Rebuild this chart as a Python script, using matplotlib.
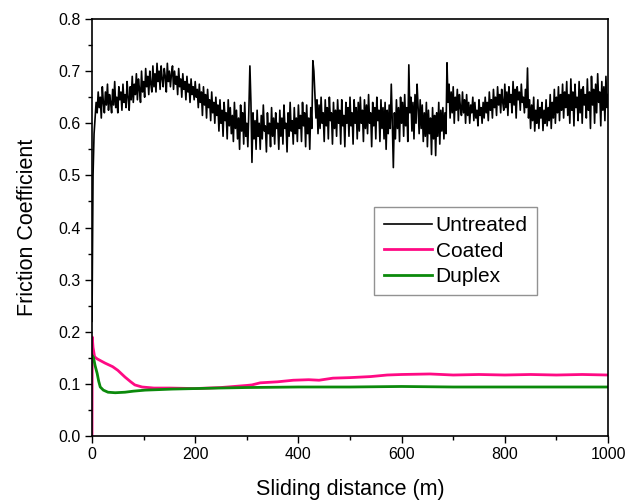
import numpy as np
import matplotlib
matplotlib.use("Agg")
import matplotlib.pyplot as plt
from matplotlib.ticker import MultipleLocator

plt.rcParams['font.family'] = ['Liberation Sans', 'DejaVu Sans']

untreated = [
    0.22, 0.50, 0.58, 0.61, 0.64, 0.62, 0.66, 0.63, 0.65, 0.61, 0.67, 0.64, 0.62, 0.66, 0.635, 0.675, 0.625, 0.655, 0.64, 0.62,
    0.665, 0.635, 0.68, 0.63, 0.65, 0.62, 0.67, 0.645, 0.66, 0.625, 0.675, 0.64, 0.655, 0.63, 0.68, 0.65, 0.625, 0.67, 0.645, 0.69,
    0.64, 0.675, 0.655, 0.695, 0.645, 0.685, 0.665, 0.64, 0.70, 0.66, 0.68, 0.65, 0.705, 0.67, 0.69, 0.655, 0.70, 0.675, 0.66, 0.71,
    0.67, 0.695, 0.66, 0.715, 0.68, 0.70, 0.665, 0.71, 0.685, 0.67, 0.705, 0.69, 0.66, 0.715, 0.68, 0.70, 0.67, 0.695, 0.71, 0.665,
    0.70, 0.675, 0.69, 0.655, 0.705, 0.67, 0.685, 0.65, 0.695, 0.665, 0.68, 0.645, 0.69, 0.66, 0.675, 0.64, 0.685, 0.655, 0.67, 0.645,
    0.68, 0.65, 0.665, 0.63, 0.675, 0.64, 0.66, 0.615, 0.67, 0.635, 0.655, 0.61, 0.665, 0.63, 0.645, 0.605, 0.66, 0.62, 0.64, 0.60,
    0.65, 0.615, 0.635, 0.585, 0.645, 0.60, 0.625, 0.575, 0.64, 0.605, 0.62, 0.57, 0.645, 0.595, 0.63, 0.58, 0.615, 0.565, 0.64, 0.59,
    0.625, 0.57, 0.61, 0.55, 0.635, 0.585, 0.62, 0.56, 0.64, 0.575, 0.60, 0.555, 0.625, 0.71, 0.64, 0.525, 0.62, 0.57, 0.605, 0.55,
    0.625, 0.575, 0.60, 0.55, 0.615, 0.57, 0.635, 0.585, 0.595, 0.545, 0.62, 0.58, 0.60, 0.555, 0.63, 0.575, 0.61, 0.56, 0.62, 0.59,
    0.60, 0.55, 0.625, 0.575, 0.61, 0.56, 0.635, 0.59, 0.60, 0.545, 0.62, 0.575, 0.64, 0.585, 0.605, 0.56, 0.63, 0.58, 0.61, 0.565,
    0.635, 0.59, 0.615, 0.565, 0.64, 0.595, 0.62, 0.555, 0.635, 0.58, 0.61, 0.55, 0.63, 0.59, 0.72, 0.70, 0.655, 0.61, 0.645, 0.58,
    0.635, 0.59, 0.65, 0.60, 0.62, 0.565, 0.645, 0.595, 0.63, 0.57, 0.65, 0.605, 0.62, 0.56, 0.64, 0.59, 0.625, 0.575, 0.645, 0.60,
    0.625, 0.56, 0.645, 0.595, 0.615, 0.555, 0.64, 0.60, 0.63, 0.575, 0.65, 0.595, 0.62, 0.56, 0.645, 0.60, 0.63, 0.57, 0.64, 0.585,
    0.65, 0.60, 0.625, 0.565, 0.645, 0.59, 0.635, 0.58, 0.655, 0.60, 0.62, 0.555, 0.64, 0.595, 0.63, 0.57, 0.65, 0.605, 0.625, 0.565,
    0.645, 0.59, 0.63, 0.57, 0.64, 0.55, 0.625, 0.58, 0.635, 0.59, 0.675, 0.60, 0.515, 0.62, 0.57, 0.645, 0.59, 0.63, 0.565, 0.65,
    0.60, 0.64, 0.575, 0.655, 0.595, 0.63, 0.565, 0.712, 0.62, 0.65, 0.585, 0.64, 0.57, 0.655, 0.60, 0.675, 0.63, 0.58, 0.645, 0.59,
    0.635, 0.565, 0.62, 0.575, 0.64, 0.555, 0.625, 0.58, 0.61, 0.54, 0.63, 0.57, 0.615, 0.538, 0.62, 0.575, 0.64, 0.56, 0.625, 0.585,
    0.63, 0.57, 0.62, 0.58, 0.716, 0.64, 0.675, 0.61, 0.66, 0.62, 0.67, 0.60, 0.65, 0.625, 0.665, 0.605, 0.655, 0.63, 0.615, 0.66,
    0.62, 0.645, 0.60, 0.655, 0.615, 0.64, 0.60, 0.635, 0.62, 0.65, 0.605, 0.64, 0.61, 0.625, 0.595, 0.645, 0.615, 0.63, 0.60, 0.64,
    0.61, 0.65, 0.62, 0.64, 0.605, 0.66, 0.625, 0.645, 0.61, 0.665, 0.63, 0.65, 0.615, 0.67, 0.635, 0.655, 0.62, 0.665, 0.64, 0.625,
    0.675, 0.63, 0.66, 0.615, 0.67, 0.64, 0.655, 0.62, 0.68, 0.635, 0.665, 0.61, 0.67, 0.645, 0.66, 0.625, 0.675, 0.64, 0.65, 0.62,
    0.665, 0.63, 0.706, 0.61, 0.645, 0.59, 0.635, 0.605, 0.65, 0.585, 0.625, 0.60, 0.645, 0.59, 0.63, 0.61, 0.64, 0.586, 0.625, 0.60,
    0.645, 0.595, 0.63, 0.605, 0.655, 0.59, 0.64, 0.61, 0.665, 0.60, 0.65, 0.62, 0.67, 0.605, 0.655, 0.625, 0.675, 0.61, 0.66, 0.63,
    0.68, 0.615, 0.655, 0.60, 0.685, 0.625, 0.66, 0.595, 0.675, 0.63, 0.65, 0.605, 0.68, 0.62, 0.665, 0.60, 0.67, 0.635, 0.655, 0.61,
    0.685, 0.625, 0.66, 0.59, 0.69, 0.635, 0.665, 0.60, 0.675, 0.62, 0.695, 0.64, 0.66, 0.595, 0.68, 0.625, 0.67, 0.605, 0.69, 0.63,
    0.655,
]
untreated_x = np.arange(len(untreated)) * 2.0

coated_x = [0, 0.5, 2, 5, 10, 25, 40, 50, 64, 75, 83, 97, 120, 150, 200, 250,
            300, 310, 326, 360, 390, 420, 440, 467, 500, 540, 572, 600, 655,
            700, 750, 800, 850, 900, 950, 1000]
coated = [0.0, 0.19, 0.17, 0.152, 0.148, 0.14, 0.133, 0.126, 0.113, 0.104,
          0.098, 0.094, 0.092, 0.092, 0.091, 0.093, 0.097, 0.098, 0.102, 0.104,
          0.107, 0.108, 0.107, 0.111, 0.112, 0.114, 0.117, 0.118, 0.119, 0.117,
          0.118, 0.117, 0.118, 0.117, 0.118, 0.117]

duplex_x = [0, 3, 6, 10, 13, 16, 22, 31, 45, 64, 80, 103, 130, 155, 200, 244,
            300, 400, 500, 600, 700, 800, 900, 1000]
duplex = [0.155, 0.15, 0.135, 0.12, 0.105, 0.094, 0.088, 0.084, 0.083, 0.084,
          0.086, 0.088, 0.089, 0.090, 0.091, 0.092, 0.093, 0.094, 0.094, 0.095,
          0.094, 0.094, 0.094, 0.094]

fig = plt.figure(figsize=(6.27, 5.0), dpi=100)
ax = fig.add_axes([92/627, 1-436/500, 516/627, 417/500])

ax.plot(untreated_x, untreated, color='black', lw=1.2, label='Untreated')
ax.plot(coated_x, coated, color='#ff0a84', lw=2.0, label='Coated')
ax.plot(duplex_x, duplex, color='#0b8a0b', lw=2.0, label='Duplex')

ax.set_xlim(0, 1000)
ax.set_ylim(0, 0.8)
ax.xaxis.set_major_locator(MultipleLocator(200))
ax.xaxis.set_minor_locator(MultipleLocator(100))
ax.yaxis.set_major_locator(MultipleLocator(0.1))
ax.yaxis.set_minor_locator(MultipleLocator(0.05))
ax.set_yticks(ax.get_yticks())
ax.set_yticklabels([f'{v:.1f}' for v in ax.get_yticks()])
ax.set_ylim(0, 0.8)
ax.tick_params(which='both', direction='out', top=False, right=False,
               labelsize=11.5, width=1.0)
ax.tick_params(which='major', length=5, pad=3)
ax.tick_params(which='minor', length=3)
for s in ax.spines.values():
    s.set_linewidth(1.2)

ax.set_xlabel('Sliding distance (m)', fontsize=15.5, labelpad=12)
ax.set_ylabel('Friction Coefficient', fontsize=15.5, labelpad=15)

leg = ax.legend(loc='upper left', bbox_to_anchor=(0.547, 0.549), borderaxespad=0,
                fontsize=15, frameon=True, fancybox=False, handlelength=2.3,
                handletextpad=0.2, labelspacing=0.3, borderpad=0.45)
leg.get_frame().set_edgecolor('#777777')
leg.get_frame().set_linewidth(1.0)

fig.savefig('out.png', dpi=100)
